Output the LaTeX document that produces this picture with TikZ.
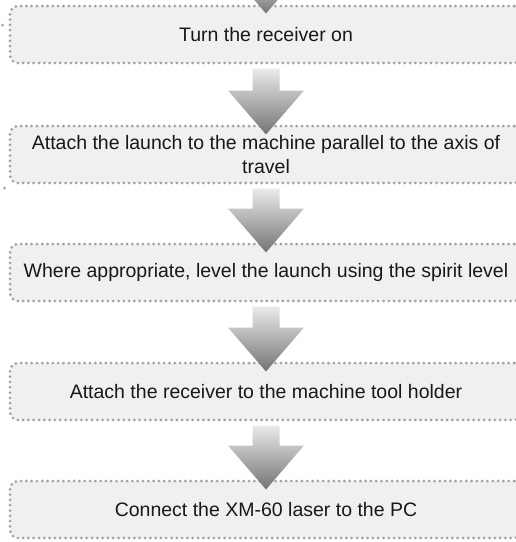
\documentclass[tikz,border=0pt]{standalone}
\usepackage{fontspec}
\setmainfont{Liberation Sans}
\usetikzlibrary{calc}

\definecolor{boxfill}{HTML}{F0F0F0}
\definecolor{dotgray}{HTML}{A0A0A0}
\definecolor{arrowtop}{HTML}{EAEAEA}
\definecolor{arrowbot}{HTML}{747474}
\definecolor{inkcol}{HTML}{181818}

\tikzset{
  stepbox/.style={
    rectangle, rounded corners=8pt,
    fill=boxfill, draw=dotgray,
    line width=3pt, line cap=round, dash pattern=on 0pt off 5.3pt,
    minimum width=512pt, minimum height=57pt,
    align=center, text=inkcol,
    font=\fontsize{19.5}{23.5}\selectfont
  },
  arrowshade/.style={top color=arrowtop, bottom color=arrowbot, draw=none},
  straydot/.style={fill=dotgray, draw=none}
}

% block arrow from a start point (shaft top) to a tip point
\newcommand{\flowarrow}[2]{%
  \shade[arrowshade]
    ($(#1)+(-13.5,0)$) -- ($(#1)+(13.5,0)$) --
    ($(#2)+(13.5,-44)$) -- ($(#2)+(38,-44)$) -- (#2) --
    ($(#2)+(-38,-44)$) -- ($(#2)+(-13.5,-44)$) -- cycle;}

\begin{document}
\begin{tikzpicture}[x=1pt, y=-1pt]
  \useasboundingbox (0,0) rectangle (516,542);

  % process steps
  \node[stepbox] (b1) at (266,34.5)  {Turn the receiver on};
  \node[stepbox] (b2) at (266,154.5) {Attach the launch to the machine parallel to the axis of\\travel};
  \node[stepbox] (b3) at (266,272.5) {Where appropriate, level the launch using the spirit level};
  \node[stepbox] (b4) at (266,391.5) {Attach the receiver to the machine tool holder};
  \node[stepbox] (b5) at (266,509.5) {Connect the XM-60 laser to the PC};

  % small marks at the left edge
  \fill[straydot] (2.5,25) circle (1.5pt);
  \fill[straydot] (4.5,188) circle (1.5pt);

  % arrows between the steps
  \coordinate (s0) at (266,-30);
  \coordinate (t1) at ($(b1.north)+(0,9)$);
  \flowarrow{s0}{t1}

  \coordinate (s1) at ($(b1.south)+(0,4)$);
  \coordinate (t2) at ($(b2.north)+(0,10)$);
  \flowarrow{s1}{t2}

  \coordinate (s2) at ($(b2.south)+(0,4)$);
  \coordinate (t3) at ($(b3.north)+(0,10)$);
  \flowarrow{s2}{t3}

  \coordinate (s3) at ($(b3.south)+(0,4)$);
  \coordinate (t4) at ($(b4.north)+(0,10)$);
  \flowarrow{s3}{t4}

  \coordinate (s4) at ($(b4.south)+(0,4)$);
  \coordinate (t5) at ($(b5.north)+(0,10)$);
  \flowarrow{s4}{t5}
\end{tikzpicture}
\end{document}
